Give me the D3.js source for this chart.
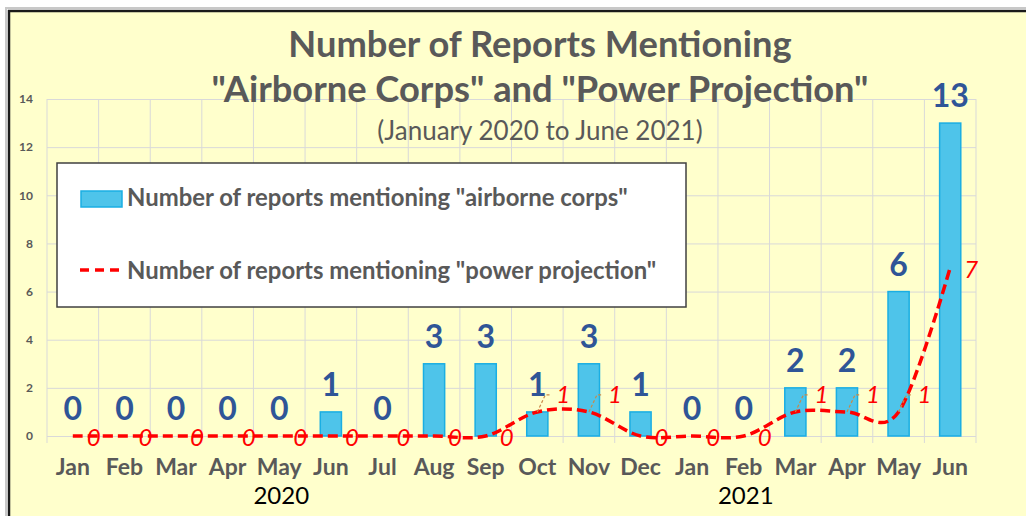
<!DOCTYPE html>
<html>
<head>
<meta charset="utf-8">
<script src="https://cdn.jsdelivr.net/npm/d3@7"></script>
<style>
  body { margin: 0; background: white; }
  svg { display: block; }
</style>
</head>
<body>
<svg id="chart" width="1026" height="516"></svg>
<script>
// chart values
const months = ["Jan","Feb","Mar","Apr","May","Jun","Jul","Aug","Sep","Oct","Nov","Dec",
                "Jan","Feb","Mar","Apr","May","Jun"]
const airborneCorps   = [0,0,0,0,0,1,0,3,3,1,3,1,0,0,2,2,6,13]
const powerProjection = [0,0,0,0,0,0,0,0,0,1,1,0,0,0,1,1,1,7]
const yearLabels  = ["2020","2021"]
const yearAnchors = [4, 13]   // month index the year label sits under
const yTicks = [0,2,4,6,8,10,12,14]
const titleLines = ["Number of Reports Mentioning", "\"Airborne Corps\" and \"Power Projection\""]
const subTitle = "(January 2020 to June 2021)"
const legendNames = ["Number of reports mentioning \"airborne corps\"",
                     "Number of reports mentioning \"power projection\""]

const FONT = "Lato, 'Open Sans', sans-serif"
const GRAY = "#595959"
const BLUE_TXT = "#2F5597"
const BAR_FILL = "#4EC4EA"
const BAR_STROKE = "#1AAEE3"

svg = d3.select('#chart')

// frame
svg.append('rect')
  .attr('x', 6).attr('y', 8).attr('width', 1040).attr('height', 530)
  .attr('fill', 'none').attr('stroke', '#c8c8c8').attr('stroke-width', 2)
svg.append('rect')
  .attr('x', 9).attr('y', 11).attr('width', 1040).attr('height', 530)
  .attr('fill', '#FFFFCC').attr('stroke', '#1a1a1a').attr('stroke-width', 2.5)

idx = d3.range(months.length)
x = d3.scaleBand().domain(idx).range([47, 976]).paddingInner(0.59).paddingOuter(0.295)
cell = d3.scaleBand().domain(idx).range([47, 976])
y = d3.scaleLinear().domain([0, 14]).range([436, 99])
cx = function(i){ return x(i) + x.bandwidth()/2 }

// horizontal grid + y labels
yAxis = svg.append('g')
  .attr('transform', 'translate(47,0)')
  .call(d3.axisLeft(y).tickValues(yTicks).tickSize(-(976-47)).tickPadding(14))
yAxis.select('.domain').remove()
yAxis.selectAll('line').attr('stroke', '#D9D9D9')
yAxis.selectAll('text')
  .style('font-family', FONT).style('font-weight', 'bold')
  .style('font-size', '12px').style('fill', GRAY)

// vertical grid at cell edges
svg.append('g').selectAll('line')
  .data(d3.range(months.length + 1))
  .enter().append('line')
  .attr('x1', function(k){ return 47 + k*cell.step() })
  .attr('x2', function(k){ return 47 + k*cell.step() })
  .attr('y1', y(14)).attr('y2', y(0) + 7)
  .attr('stroke', '#D9D9D9')

// month labels
xAxis = svg.append('g')
  .attr('transform', 'translate(0,' + y(0) + ')')
  .call(d3.axisBottom(x).tickSize(0).tickFormat(function(i){ return months[i] }))
xAxis.select('.domain').remove()
xAxis.selectAll('text')
  .attr('y', 39).attr('dy', 0)
  .style('font-family', FONT).style('font-weight', 'bold')
  .style('font-size', '23px').style('fill', GRAY)

// year labels
svg.selectAll('.year').data(yearLabels)
  .enter().append('text')
  .attr('class', 'year')
  .attr('x', function(d, i){ return cx(yearAnchors[i]) + 2 })
  .attr('y', 504)
  .attr('text-anchor', 'middle')
  .text(function(d){ return d })
  .style('font-family', FONT).style('font-size', '24px').style('fill', 'black')

// title
svg.selectAll('.title').data(titleLines)
  .enter().append('text')
  .attr('class', 'title')
  .attr('x', 540)
  .attr('y', function(d, i){ return 57 + i*45 })
  .attr('text-anchor', 'middle')
  .text(function(d){ return d })
  .style('font-family', FONT).style('font-weight', 'bold')
  .style('font-size', '36.3px').style('fill', GRAY)

svg.append('text')
  .attr('x', 540).attr('y', 140)
  .attr('text-anchor', 'middle')
  .text(subTitle)
  .style('font-family', FONT).style('font-size', '26px').style('fill', GRAY)

// legend
legend = svg.append('g')
legend.append('rect')
  .attr('x', 57).attr('y', 163).attr('width', 629).attr('height', 144)
  .attr('fill', 'white').attr('stroke', '#404040').attr('stroke-width', 1.5)
legend.append('rect')
  .attr('x', 81).attr('y', 191).attr('width', 41).attr('height', 16)
  .attr('fill', BAR_FILL).attr('stroke', BAR_STROKE).attr('stroke-width', 1.5)
legend.append('line')
  .attr('x1', 80).attr('x2', 119).attr('y1', 270).attr('y2', 270)
  .attr('stroke', 'red').attr('stroke-width', 3.5).attr('stroke-dasharray', '9,6')
legend.selectAll('.legTxt').data(legendNames)
  .enter().append('text')
  .attr('class', 'legTxt')
  .attr('x', 127)
  .attr('y', function(d, i){ return 206 + i*73 })
  .text(function(d){ return d })
  .style('font-family', FONT).style('font-weight', 'bold')
  .style('font-size', '23.9px').style('fill', GRAY)

// bars
svg.selectAll('.bar').data(airborneCorps)
  .enter().append('rect')
  .attr('class', 'bar')
  .attr('x', function(d, i){ return x(i) })
  .attr('y', function(d){ return y(d) })
  .attr('width', x.bandwidth())
  .attr('height', function(d){ return y(0) - y(d) })
  .attr('fill', BAR_FILL).attr('stroke', BAR_STROKE).attr('stroke-width', 1.5)

svg.selectAll('.barLbl').data(airborneCorps)
  .enter().append('text')
  .attr('class', 'barLbl')
  .attr('x', function(d, i){ return cx(i) })
  .attr('y', function(d){ return y(d) - 16 })
  .attr('text-anchor', 'middle')
  .text(function(d){ return d })
  .style('font-family', FONT).style('font-weight', 'bold')
  .style('font-size', '32px').style('fill', BLUE_TXT)

// power projection smooth dashed line
pts = powerProjection.map(function(v, i){ return {i: i, v: v} })
svg.append('path')
  .datum(pts)
  .attr('fill', 'none')
  .attr('stroke', 'red')
  .attr('stroke-width', 3.5)
  .attr('stroke-dasharray', '10,5')
  .attr('d', d3.line()
    .x(function(d){ return cx(d.i) })
    .y(function(d){ return y(d.v) })
    .curve(d3.curveCardinal.tension(0)))

// line labels: raised ones get a leader line
last = pts.length - 1
raised = pts.filter(function(d){ return d.v > 0 && d.i != last })
svg.selectAll('.leader').data(raised)
  .enter().append('path')
  .attr('class', 'leader')
  .attr('d', function(d){
    px = cx(d.i); py = y(d.v)
    return 'M' + px + ',' + py + 'L' + (px+8) + ',' + (py-17) + 'L' + (px+13) + ',' + (py-17)
  })
  .attr('fill', 'none').attr('stroke', '#C98A48').attr('stroke-width', 1.2)
  .attr('stroke-dasharray', '3,2')

svg.selectAll('.ppLbl').data(pts)
  .enter().append('text')
  .attr('class', 'ppLbl')
  .attr('x', function(d){ return cx(d.i) + (d.v > 0 && d.i != last ? 26 : 21) })
  .attr('y', function(d){ return y(d.v) + (d.v > 0 && d.i != last ? -9 : 10) })
  .attr('text-anchor', 'middle')
  .text(function(d){ return d.v })
  .style('font-family', FONT).style('font-style', 'italic')
  .style('font-size', '24px').style('fill', 'red')
</script>
</body>
</html>
